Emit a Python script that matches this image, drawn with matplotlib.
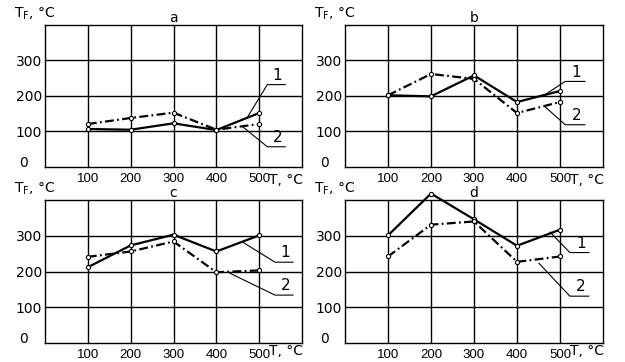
import matplotlib.pyplot as plt

# temperature of treatment, degC
temp = [100, 200, 300, 400, 500]
panel_names = ["a", "b", "c", "d"]

# T_F values: curve 1 (solid) and curve 2 (dash-dot)
tf1_a = [107, 105, 123, 104, 152]
tf2_a = [121, 138, 153, 105, 121]
tf1_b = [202, 199, 258, 183, 214]
tf2_b = [202, 262, 248, 152, 183]
tf1_c = [212, 273, 303, 256, 301]
tf2_c = [241, 256, 284, 198, 203]
tf1_d = [301, 418, 346, 272, 317]
tf2_d = [242, 331, 340, 227, 242]

x_ticks = [100, 200, 300, 400, 500]
y_ticks = [100, 200, 300]
curve_labels = ["1", "2"]

series = [(tf1_a, tf2_a), (tf1_b, tf2_b), (tf1_c, tf2_c), (tf1_d, tf2_d)]

# axes boxes in figure fractions
boxes = [
    [0.072, 0.5387, 0.4112, 0.3923],
    [0.552, 0.5387, 0.4128, 0.3923],
    [0.072, 0.0525, 0.4112, 0.395],
    [0.552, 0.0525, 0.4128, 0.395],
]
# vertical offset (px) of the "T, °C" axis label under each panel
xlabel_dy = [-6, -6, -1, -1]

# leader lines for the curve numbers: (tip x, tip y, underline x0, x1, underline y)
leaders = [
    [(472, 139, 519, 561, 232), (462, 113, 519, 561, 57)],
    [(458, 198, 512, 558, 241), (465, 170, 512, 558, 119)],
    [(463, 281, 537, 579, 226), (432, 195, 537, 579, 134)],
    [(477, 310, 523, 567, 253), (451, 223, 523, 567, 131)],
]

fig = plt.figure(figsize=(6.25, 3.62), dpi=100)

for name, (s1, s2), box, lead, dy in zip(panel_names, series, boxes, leaders, xlabel_dy):
    ax = fig.add_axes(box)
    ax.set_xlim(0, 600)
    ax.set_ylim(0, 400)
    ax.set_xticks(x_ticks)
    ax.set_yticks(y_ticks)
    ax.set_xticklabels([str(v) for v in x_ticks], fontsize=9.5,
                       family="Liberation Sans")
    ax.set_yticklabels([str(v) for v in y_ticks], fontsize=10)
    ax.tick_params(length=0)
    ax.tick_params(axis="x", pad=4)
    ax.tick_params(axis="y", pad=2)
    ax.grid(True, color="black", lw=1)
    for sp in ax.spines.values():
        sp.set_linewidth(1)
        sp.set_color("black")

    ax.plot(temp, s1, color="black", lw=1.6, ls="-", marker="o", ms=3,
            mfc="white", mec="black", mew=0.8, clip_on=False, zorder=3)
    ax.plot(temp, s2, color="black", lw=1.6, ls=(0, (4, 1.5, 0.8, 1.5)),
            marker="o", ms=3, mfc="white", mec="black", mew=0.8,
            clip_on=False, zorder=3)

    for lab, (tx, ty, x0, x1, uy) in zip(curve_labels, lead):
        ax.plot([tx, x0, x1], [ty, uy, uy], color="black", lw=0.8,
                clip_on=False, zorder=4)
        ax.text((x0 + x1) / 2 + 3, uy + 5, lab, ha="center", va="bottom",
                fontsize=11)

    ax.set_title(name, fontsize=10, pad=2)
    ax.annotate("0", xy=(0, 0), xycoords="axes fraction", xytext=(-21, 4),
                textcoords="offset pixels", ha="center", va="center",
                fontsize=10)
    ax.annotate(r"T$_\mathregular{F}$, °C", xy=(0, 1), xycoords="axes fraction",
                xytext=(-31, 3), textcoords="offset pixels", ha="left",
                va="bottom", fontsize=10)
    ax.annotate("T, °C", xy=(500, 0), xycoords="data", xytext=(10, dy),
                textcoords="offset pixels", ha="left", va="top", fontsize=10,
                annotation_clip=False)

fig.savefig("out.png", dpi=100)
